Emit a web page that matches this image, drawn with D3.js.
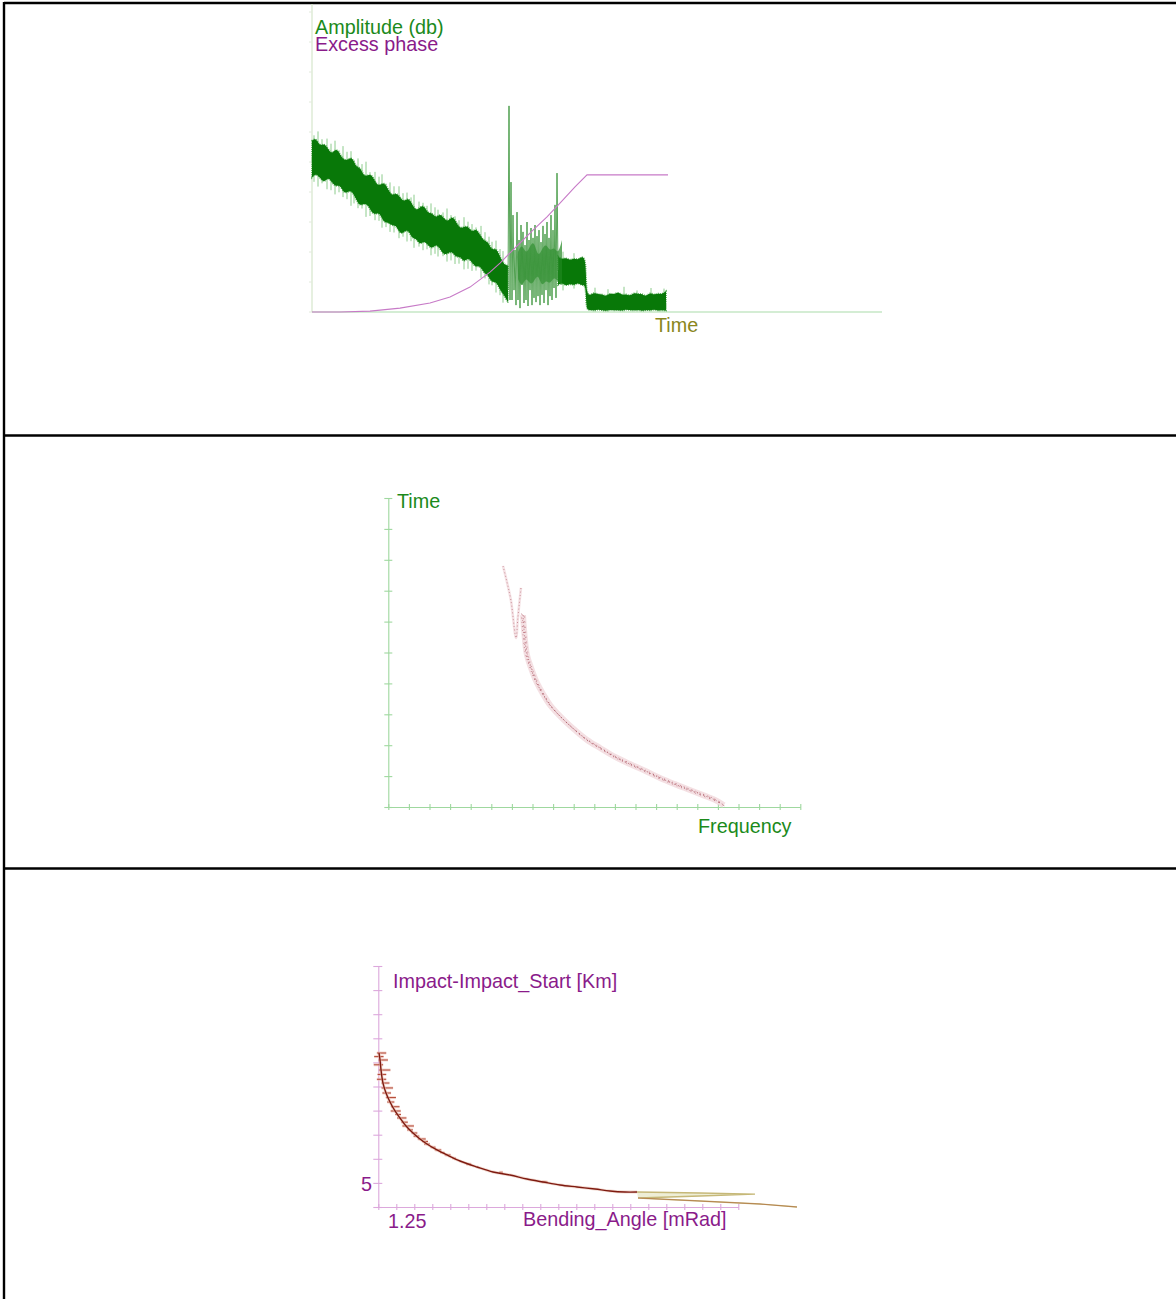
<!DOCTYPE html>
<html><head><meta charset="utf-8">
<script src="https://cdn.jsdelivr.net/npm/d3@7"></script>
<style>
html,body{margin:0;padding:0;background:#fff;}
svg{display:block;font-family:"Liberation Sans",Arial,sans-serif;}
</style></head>
<body><svg id="c" width="1176" height="1299"></svg>
<script>
// ---------- Panel 1 data: Amplitude (db) and Excess phase vs Time ----------
const ampStep = 0.4;          // seconds between envelope samples
const ampBandHi = [57.1,58.1,55.1,56.3,54.5,52.4,54.7,52.6,50.6,50.6,51.9,48.2,48.4,45.1,45.6,45.8,42.7,42.1,43.4,41.0,
  38.6,39.8,38.3,36.6,38.2,36.1,33.6,35.0,35.6,32.8,33.1,31.2,32.9,31.1,30.0,32.1,30.2,27.7,28.4,28.7,
  26.4,28.0,25.7,23.7,23.5,20.4,21.5,18.5,15.7,15.5];
const ampBandLo = [44.9,46.2,44.8,43.0,45.1,43.2,41.7,42.5,39.5,40.1,40.5,37.6,35.3,36.2,35.8,32.9,32.7,33.0,29.6,30.1,
  28.7,29.1,25.9,26.6,27.6,24.6,24.6,22.3,23.9,22.3,21.0,22.7,21.1,19.0,19.5,20.3,18.1,18.7,16.4,18.3,
  16.4,14.9,15.5,12.9,12.4,9.7,10.4,7.4,5.7,3.2];
const spikeT   = [0.6,1.5,2.3,3.1,3.9,4.6,5.4,6.3,7.0,7.8,8.7,9.5,10.2,11.1,11.9,12.6,13.5,14.3,15.2,16.0,16.9,17.7,18.4,19.1,
  0.2,1.0,1.9,2.7,3.5,4.2,5.0,5.8,6.7,7.4,8.2,9.1,9.9,10.7,11.5,12.3,13.1,13.9,14.7,15.6,16.4,17.3,18.0,18.8,
  25.1,26.2,28.3,29.6,31.2,32.5,33.9,35.2];
const spikeTop = [60.2,57.8,57.1,55.3,53.6,51.2,50.1,46.7,45.9,43.2,41.9,39.8,39.1,36.4,36.2,34.1,34.5,31.9,31.6,29.3,28.7,25.1,23.8,20.3,
  58.9,57.6,56.1,53.9,53.4,50.7,49.3,46.6,45.1,42.8,41.9,39.6,38.2,36.8,35.4,34.9,33.2,32.3,30.6,30.1,28.2,26.6,23.4,21.0,
  20.1,19.6,8.1,7.6,8.4,7.2,8.0,7.8];
const spikeBot = [41.8,40.9,39.2,38.3,35.4,34.6,31.7,30.6,28.1,26.7,24.6,23.5,21.4,20.6,18.9,18.5,16.8,16.0,14.2,13.7,11.4,9.2,6.5,3.1,
  43.4,42.9,40.6,39.9,37.6,36.2,34.5,32.0,30.4,28.3,26.5,25.1,23.6,21.8,20.9,19.4,18.6,17.2,16.1,14.4,13.8,11.2,8.9,5.6,
  7.2,7.8,0.2,0.2,0.2,0.2,0.2,0.2];
const burstStart = 19.6, burstStep = 0.1;
const ampBurst = [7.3,68.7,4,43.3,4,32.3,7.3,20.7,2.3,33.3,4,24,1.3,29,9,26.7,3,22.3,4,30,2,24,7.3,28,2.3,24.7,
  4.7,29,3.3,25.3,5.3,27.3,2.3,23.3,5.7,28.7,3,26,7.3,30,2.3,24.7,5.3,32.3,4,27.3,8,35.7,4.7,46.3,14];
const burstCoreHi = [20,23,19,22,24,18,21,23,20,22,19,24];
const burstCoreLo = [11,8,12,9,10,13,8,11,9,12,10,9];
const plat1Start = 24.6;
const plat1Hi = [18.5,17.4,18.2,17.1,18.0,17.3,18.6,17.6];
const plat1Lo = [9.0,9.8,8.6,9.5,8.8,9.9,8.7,9.3];
const plat2Start = 27.4;
const plat2Hi = [6.2,5.4,6.6,5.8,6.0,5.1,6.4,5.7,6.8,5.5,6.1,5.3,6.5,5.9,6.2,5.0,6.6,5.6,6.3,5.8,6.9];
const plat2Lo = [0.5,0.8,0.4,0.9,0.6,0.3,0.8,0.5,0.7,0.4,0.9,0.6,0.5,0.8,0.3,0.7,0.5,0.9,0.4,0.6,0.5];
const phaseT = [0,2.8,5.8,8.8,11.8,13.8,15.8,17.8,18.8,19.8,20.8,22.1,23.5,24.8,26.3,27.5,35.6];
const phaseV = [0,0,0.3,1.3,3,5,8.3,13.3,16.3,19.7,23,27.3,31.7,36.3,41.7,45.7,45.7];

// ---------- Panel 2 data: Time vs Frequency ----------
const vFreq = [5.57,5.76,5.95,6.20,6.29,6.44];
const vTime = [7.80,7.28,6.70,5.47,6.12,7.09];
const mainFreq = [6.54,6.59,6.73,6.93,7.22,7.51,7.85,8.19,8.58,9.06,9.65,10.28,11.01,11.73,12.46,13.19,13.91,14.64,15.37,15.86,16.29];
const mainTime = [6.21,5.73,4.92,4.50,4.01,3.66,3.30,3.04,2.78,2.49,2.17,1.91,1.62,1.39,1.17,0.94,0.74,0.55,0.36,0.23,0.06];

// ---------- Panel 3 data: Impact-Impact_Start vs Bending_Angle ----------
const bendAngle = [1.2010,1.2024,1.2038,1.2065,1.2107,1.2163,1.2232,1.2301,1.2385,1.2482,1.2579,1.2676,1.2815,1.2954,
  1.3135,1.3371,1.3593,1.3829,1.4065,1.4288,1.4524,1.4760,1.5010,1.5218,1.5426,1.5593];
const impactKm = [7.695,7.550,7.342,7.072,6.865,6.678,6.492,6.347,6.181,6.035,5.911,5.807,5.683,5.579,
  5.454,5.330,5.226,5.164,5.081,5.019,4.956,4.915,4.873,4.832,4.811,4.811];
const loopAngle = [1.5593,1.6468,1.7232,1.6468,1.5607,1.6468,1.7301,1.7815];
const loopKm = [4.811,4.790,4.769,4.728,4.687,4.624,4.562,4.500];
const jitAngle = [1.2003,1.2010,1.2017,1.2024,1.2030,1.2038,1.2050,1.2065,1.2085,1.2107,1.2135,1.2163,1.2195,1.2232,
  1.2265,1.2301,1.2340,1.2385,1.2430,1.2482,1.2530,1.2579,1.2630,1.2676,1.2745,1.2815,1.2880,1.2954,1.3050,1.3250,1.3700,1.4300];
const jitKm = [7.62,7.695,7.45,7.550,7.25,7.342,7.15,7.072,6.97,6.865,6.77,6.678,6.58,6.492,
  6.42,6.347,6.26,6.181,6.10,6.035,5.97,5.911,5.86,5.807,5.74,5.683,5.63,5.579,5.51,5.39,5.22,5.02];
const jitLeft  = [0.006,0.003,0.008,0.002,0.004,0.003,0.007,0.002,0.004,0.005,0.003,0.004,0.002,0.006,
  0.003,0.004,0.002,0.005,0.003,0.002,0.004,0.003,0.002,0.004,0.002,0.003,0.002,0.003,0.002,0.003,0.002,0.003];
const jitRight = [0.007,0.010,0.005,0.011,0.008,0.013,0.006,0.009,0.012,0.007,0.011,0.006,0.010,0.008,
  0.005,0.009,0.007,0.011,0.005,0.006,0.004,0.008,0.006,0.004,0.005,0.006,0.004,0.005,0.003,0.004,0.003,0.005];
const xTickLabel = ["1.25"];
const yTickLabel = ["5"];

// ---------- drawing ----------
const svg = d3.select("#c");
const GREEN_TXT = "#1b8a1b", PURPLE_TXT = "#8a1b8a", OLIVE_TXT = "#8a861c";
const FS = 19.8;

// table frame
const frame = svg.append("g").attr("stroke","#000").attr("stroke-width",2.4);
frame.append("line").attr("x1",4).attr("x2",1176).attr("y1",3).attr("y2",3);
frame.append("line").attr("x1",4).attr("x2",4).attr("y1",2).attr("y2",1299);
frame.append("line").attr("x1",4).attr("x2",1176).attr("y1",435.5).attr("y2",435.5);
frame.append("line").attr("x1",4).attr("x2",1176).attr("y1",868.5).attr("y2",868.5);

// ===== Panel 1 =====
const x1 = d3.scaleLinear().domain([0,57]).range([312,882]);
const y1 = d3.scaleLinear().domain([0,100]).range([312,12]);
const p1 = svg.append("g");
p1.append("line").attr("x1",312).attr("x2",312).attr("y1",4).attr("y2",312).attr("stroke","#d6e6cc").attr("stroke-width",1.2);
p1.append("g").selectAll("line").data(y1.ticks(10)).join("line")
  .attr("x1",309).attr("x2",312).attr("y1",d=>y1(d)).attr("y2",d=>y1(d)).attr("stroke","#e2eadc");
p1.append("line").attr("x1",x1(0)).attr("x2",x1(57)).attr("y1",y1(0)).attr("y2",y1(0)).attr("stroke","#a9dca9").attr("stroke-width",1.2);

function bandRows(start, step, hi, lo){ return hi.map((h,i)=>({t:start+i*step, hi:h, lo:lo[i]})); }
const bandArea = d3.area().x(d=>x1(d.t)).y0(d=>y1(d.lo)).y1(d=>y1(d.hi)).curve(d3.curveBasis);
// light fringe spikes
p1.append("g").selectAll("line").data(spikeT).join("line")
  .attr("x1",d=>x1(d)).attr("x2",d=>x1(d)).attr("y1",(d,i)=>y1(spikeTop[i])).attr("y2",(d,i)=>y1(spikeBot[i]))
  .attr("stroke","#80c680").attr("stroke-width",0.9);
const segs = [bandRows(0, ampStep, ampBandHi, ampBandLo),
              bandRows(plat1Start, ampStep, plat1Hi, plat1Lo).concat(bandRows(plat2Start, ampStep, plat2Hi, plat2Lo))];
segs.forEach(s=>{
  p1.append("path").attr("d",bandArea(s)).attr("fill","#087808").attr("stroke","#5cb05c").attr("stroke-width",1.8)
    .attr("stroke-dasharray","1 1.1").attr("paint-order","stroke");
});
// burst region
p1.append("path").attr("d",bandArea(bandRows(20.6, ampStep, burstCoreHi, burstCoreLo)))
  .attr("fill","#1f861f").attr("fill-opacity",0.7).attr("stroke","none");
const burst = ampBurst.map((v,i)=>({t:burstStart+i*burstStep, v}));
p1.append("path").attr("d",d3.line().x(d=>x1(d.t)).y(d=>y1(d.v))(burst))
  .attr("fill","none").attr("stroke","#3a943a").attr("stroke-width",1).attr("stroke-opacity",0.85);
// phase
const phase = phaseT.map((t,i)=>({t, v:phaseV[i]}));
p1.append("path").attr("d",d3.line().x(d=>x1(d.t)).y(d=>y1(d.v))(phase))
  .attr("fill","none").attr("stroke","#c77ac7").attr("stroke-width",1.1);
p1.append("text").attr("x",315).attr("y",34).attr("font-size",FS).attr("fill",GREEN_TXT).text("Amplitude (db)");
p1.append("text").attr("x",315).attr("y",51).attr("font-size",FS).attr("fill",PURPLE_TXT).text("Excess phase");
p1.append("text").attr("x",655).attr("y",332).attr("font-size",FS).attr("fill",OLIVE_TXT).text("Time");

// ===== Panel 2 =====
const x2 = d3.scaleLinear().domain([0,20]).range([388.3,800.3]);
const y2 = d3.scaleLinear().domain([0,10]).range([807,498]);
const p2 = svg.append("g");
const ax2 = p2.append("g").attr("transform","translate(0,807)")
  .call(d3.axisBottom(x2).ticks(20).tickSize(3).tickSizeOuter(0).tickFormat(""));
ax2.selectAll(".tick line").attr("y1",-3).attr("y2",3);
const ay2 = p2.append("g").attr("transform","translate(388.3,0)")
  .call(d3.axisLeft(y2).ticks(10).tickSize(4).tickSizeOuter(0).tickFormat(""));
ay2.selectAll(".tick line").attr("x1",-4).attr("x2",4);
[ax2,ay2].forEach(a=>{a.selectAll("path,line").attr("stroke","#9fd89f").attr("stroke-width",1.1);});
const vPts = vFreq.map((f,i)=>[x2(f), y2(vTime[i])]);
const mPts = mainFreq.map((f,i)=>[x2(f), y2(mainTime[i])]);
const ln2 = d3.line().curve(d3.curveCatmullRom);
p2.append("path").attr("d",ln2(vPts)).attr("fill","none").attr("stroke","#efd4d8").attr("stroke-width",2.6).attr("stroke-opacity",0.7);
p2.append("path").attr("d",ln2(vPts)).attr("fill","none").attr("stroke","#9c3a48").attr("stroke-width",0.9).attr("stroke-dasharray","0.8 2.6").attr("stroke-opacity",0.65);
p2.append("path").attr("d",ln2(mPts)).attr("fill","none").attr("stroke","#f0d6da").attr("stroke-width",6).attr("stroke-opacity",0.75);
[[-1.6,-1.6,"0.9 3.3",0.55],[0,0,"0.9 2.5",0.7],[1.6,1.6,"0.9 4.1",0.55],[-0.8,-0.8,"0.7 5.3",0.6],[0.8,0.8,"0.7 4.7",0.6]].forEach(([dx,dy,da,op])=>{
  p2.append("path").attr("d",ln2(mPts)).attr("transform",`translate(${dx},${dy})`).attr("fill","none")
    .attr("stroke","#9c3a48").attr("stroke-width",1).attr("stroke-dasharray",da).attr("stroke-opacity",op);
});
p2.append("text").attr("x",397).attr("y",508).attr("font-size",FS).attr("fill",GREEN_TXT).text("Time");
p2.append("text").attr("x",698).attr("y",833).attr("font-size",FS).attr("fill",GREEN_TXT).text("Frequency");

// ===== Panel 3 =====
const x3 = d3.scaleLinear().domain([1.2,1.7]).range([378.3,738.3]);
const y3 = d3.scaleLinear().domain([4.5,9.5]).range([1207,966]);
const p3 = svg.append("g");
const ax3 = p3.append("g").attr("transform","translate(0,1207)")
  .call(d3.axisBottom(x3).tickValues(d3.range(0,21).map(i=>1.2+i*0.025)).tickSize(3).tickSizeOuter(0).tickFormat(""));
ax3.selectAll(".tick line").attr("y1",-3).attr("y2",3);
const ay3 = p3.append("g").attr("transform","translate(378.3,0)")
  .call(d3.axisLeft(y3).tickValues(d3.range(0,11).map(i=>4.5+i*0.5)).tickSize(4).tickSizeOuter(0).tickFormat(""));
ay3.selectAll(".tick line").attr("x1",-5).attr("x2",4);
[ax3,ay3].forEach(a=>{a.selectAll("path,line").attr("stroke","#dca8dc").attr("stroke-width",1.1);});
const loopPts = loopAngle.map((b,i)=>[x3(b), y3(loopKm[i])]);
p3.append("path").attr("d",d3.line()(loopPts.slice(0,5)) + "Z").attr("fill","#eeeed6").attr("stroke","none");
p3.append("path").attr("d",d3.line()(loopPts)).attr("fill","none").attr("stroke","#c6b878").attr("stroke-width",1.3);
p3.append("path").attr("d",d3.line()(loopPts.slice(4))).attr("fill","none").attr("stroke","#a8562e").attr("stroke-width",0.9).attr("stroke-opacity",0.6);
// jitter marks (halo + core)
const jit = p3.append("g");
jit.selectAll("line.h").data(jitAngle).join("line").attr("class","h")
  .attr("x1",(b,i)=>x3(b-jitLeft[i])).attr("x2",(b,i)=>x3(b+jitRight[i]))
  .attr("y1",(b,i)=>y3(jitKm[i])).attr("y2",(b,i)=>y3(jitKm[i]))
  .attr("stroke","#eec0b4").attr("stroke-width",3).attr("stroke-opacity",0.6);
jit.selectAll("line.c").data(jitAngle).join("line").attr("class","c")
  .attr("x1",(b,i)=>x3(b-jitLeft[i])).attr("x2",(b,i)=>x3(b+jitRight[i]))
  .attr("y1",(b,i)=>y3(jitKm[i])).attr("y2",(b,i)=>y3(jitKm[i]))
  .attr("stroke","#a8321e").attr("stroke-width",0.9);
const curvePts = bendAngle.map((b,i)=>[x3(b), y3(impactKm[i])]);
p3.append("path").attr("d",d3.line().curve(d3.curveCatmullRom)(curvePts)).attr("fill","none")
  .attr("stroke","#e8c0b0").attr("stroke-width",3).attr("stroke-opacity",0.6);
p3.append("path").attr("d",d3.line().curve(d3.curveCatmullRom)(curvePts)).attr("fill","none")
  .attr("stroke","#7e1a10").attr("stroke-width",1.4);
p3.append("text").attr("x",393).attr("y",988).attr("font-size",FS).attr("fill",PURPLE_TXT).text("Impact-Impact_Start [Km]");
p3.append("text").attr("x",523).attr("y",1226).attr("font-size",FS).attr("fill",PURPLE_TXT).text("Bending_Angle [mRad]");
p3.append("text").attr("x",x3(1.25)-7).attr("y",1228).attr("text-anchor","middle").attr("font-size",FS).attr("fill",PURPLE_TXT).text(xTickLabel[0]);
p3.append("text").attr("x",372).attr("y",y3(5)+8).attr("text-anchor","end").attr("font-size",FS).attr("fill",PURPLE_TXT).text(yTickLabel[0]);
</script></body></html>
